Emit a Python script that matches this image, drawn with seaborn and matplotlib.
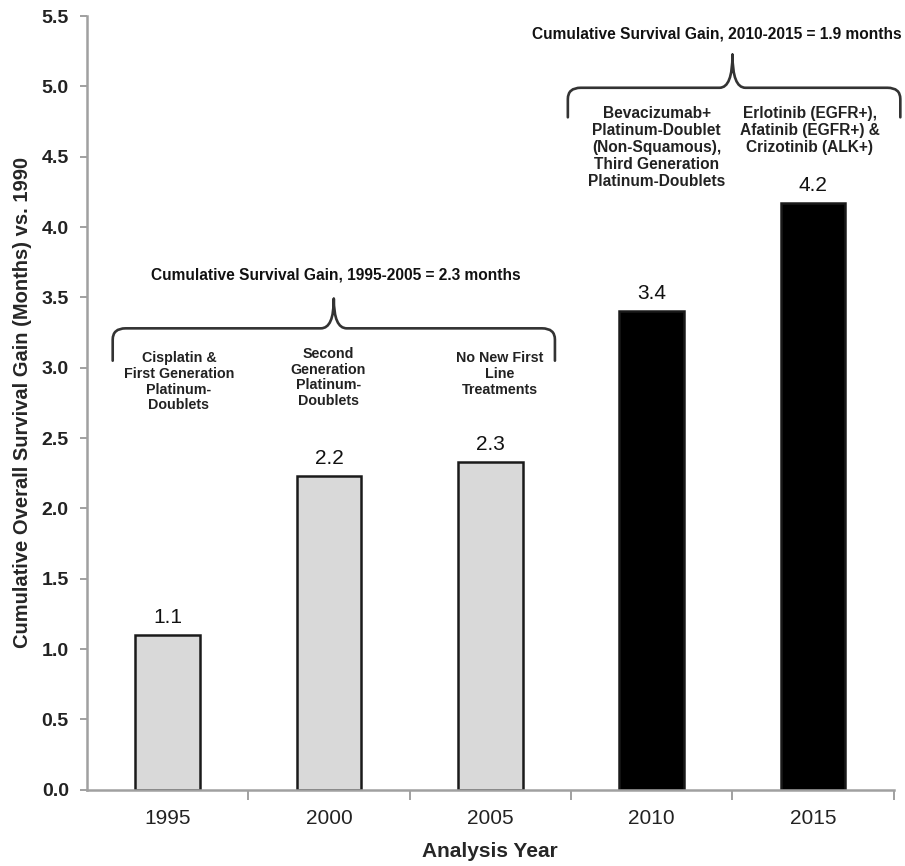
import matplotlib
matplotlib.use("Agg")
import matplotlib.pyplot as plt
from matplotlib.path import Path
from matplotlib.patches import PathPatch
import seaborn as sns
import pandas as pd

# Data
years = ["1995", "2000", "2005", "2010", "2015"]
gains = [1.10, 2.23, 2.33, 3.40, 4.17]
bar_colors = ["#d9d9d9", "#d9d9d9", "#d9d9d9", "#000000", "#000000"]
y_ticks = [0.0, 0.5, 1.0, 1.5, 2.0, 2.5, 3.0, 3.5, 4.0, 4.5, 5.0, 5.5]

group_titles = [
    "Cumulative Survival Gain, 1995-2005 = 2.3 months",
    "Cumulative Survival Gain, 2010-2015 = 1.9 months",
]
treatment_notes = [
    "Cisplatin &\nFirst Generation\nPlatinum-\nDoublets",
    "Second\nGeneration\nPlatinum-\nDoublets",
    "No New First\nLine\nTreatments",
    "Bevacizumab+\nPlatinum-Doublet\n(Non-Squamous),\nThird Generation\nPlatinum-Doublets",
    "Erlotinib (EGFR+),\nAfatinib (EGFR+) &\nCrizotinib (ALK+)",
]

sns.set_theme(style="white")
plt.rcParams["font.family"] = ["Liberation Sans", "DejaVu Sans"]

df = pd.DataFrame({"year": years, "gain": gains})

fig = plt.figure(figsize=(9.05, 8.66), dpi=100)
ax = fig.add_axes([0.096, 0.088, 0.8917, 0.8935])

sns.barplot(data=df, x="year", y="gain", hue="year", palette=bar_colors,
            legend=False, width=0.40, ax=ax, saturation=1,
            edgecolor="#1a1a1a", linewidth=1.8)

# value labels above bars
for i, v in enumerate(gains):
    ax.text(i, v + 0.06, f"{v:.1f}", ha="center", va="bottom",
            fontsize=15, color="#111111")

ax.set_xlim(-0.5, 4.5)
ax.set_ylim(0, 5.5)
ax.set_yticks(y_ticks)
ax.set_yticklabels([f"{t:.1f}" for t in y_ticks], fontsize=14, fontweight="bold",
                   color="#222222")
ax.set_xticks(range(len(years)))
ax.set_xticklabels(years, fontsize=15, color="#222222")
ax.tick_params(axis="x", length=0, pad=14)
ax.tick_params(axis="y", length=5, width=1.3, color="#999999", direction="out",
               left=True, pad=8)

# tick marks between categories on the x axis
ax.set_xticks([0.5, 1.5, 2.5, 3.5, 4.5], minor=True)
ax.tick_params(axis="x", which="minor", length=7, width=1.3, color="#999999",
               direction="out", bottom=True)

for s in ["top", "right"]:
    ax.spines[s].set_visible(False)
for s in ["left", "bottom"]:
    ax.spines[s].set_color("#a0a0a0")
    ax.spines[s].set_linewidth(1.8)

ax.set_xlabel("Analysis Year", fontsize=15, fontweight="bold", labelpad=10)
ax.set_ylabel("Cumulative Overall Survival Gain (Months) vs. 1990", fontsize=14.5,
              fontweight="bold", labelpad=7)


def curly_brace(ax, x0, x1, xm, y, drop, rise):
    """Horizontal curly brace with downturned ends and an upward cusp at xm."""
    r = 0.08
    ry = 0.08
    verts = [
        (x0, y - drop), (x0, y - ry), (x0, y), (x0 + r, y),
        (xm - r, y), (xm, y), (xm, y + rise),
        (xm, y + rise), (xm, y), (xm + r, y),
        (x1 - r, y), (x1, y), (x1, y - ry), (x1, y - drop),
    ]
    codes = [Path.MOVETO, Path.LINETO, Path.CURVE3, Path.CURVE3,
             Path.LINETO, Path.CURVE3, Path.CURVE3,
             Path.MOVETO, Path.CURVE3, Path.CURVE3,
             Path.LINETO, Path.CURVE3, Path.CURVE3, Path.LINETO]
    patch = PathPatch(Path(verts, codes), fill=False, lw=1.9, color="#333333",
                      capstyle="round", joinstyle="round", clip_on=False)
    ax.add_patch(patch)


curly_brace(ax, -0.34, 2.40, 1.03, 3.28, 0.23, 0.21)
curly_brace(ax, 2.48, 4.54, 3.50, 4.99, 0.21, 0.235)

ax.text(1.04, 3.66, group_titles[0], ha="center", va="center", fontsize=11.2,
        fontweight="bold", color="#111111")
ax.text(3.40, 5.37, group_titles[1], ha="center", va="center", fontsize=11.2,
        fontweight="bold", color="#111111", clip_on=False)

note_pos = [(0.07, 3.12), (0.995, 3.15), (2.06, 3.12), (3.03, 4.86), (3.98, 4.86)]
note_size = [10.3, 10.3, 10.3, 11.2, 11.2]
for (x, y), txt, fs in zip(note_pos, treatment_notes, note_size):
    ax.text(x, y, txt, ha="center", va="top", fontsize=fs, fontweight="bold",
            color="#222222", linespacing=1.17)

fig.savefig("out.png", dpi=100)
